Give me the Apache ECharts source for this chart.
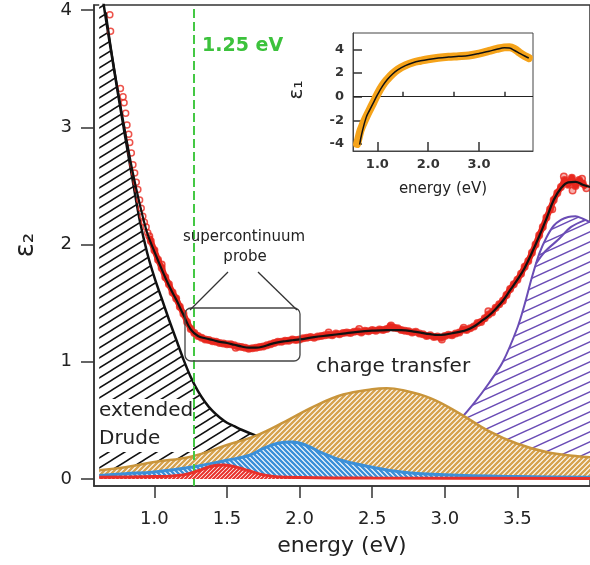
<!DOCTYPE html>
<html><head><meta charset="utf-8">
<script src="https://cdn.jsdelivr.net/npm/echarts@6.0.0/dist/echarts.min.js"></script>
<style>html,body{margin:0;padding:0;background:#fff}#c{width:590px;height:565px}</style>
</head><body><div id="c"></div>
<script>
// ---------------- data ----------------
const xTicks = [1.0, 1.5, 2.0, 2.5, 3.0, 3.5];
const yTicks = [0, 1, 2, 3, 4];
const insetXTicks = [1, 2, 3];
const insetXMinor = [1.5, 2.5, 3.5];
const insetYTicks = [-4, -2, 0, 2, 4];
const markerEnergy = 1.27;

const drudeX = [0.62,0.66,0.70,0.75,0.80,0.85,0.90,0.95,1.00,1.05,1.10,1.15,1.20,1.25,1.30,1.35,1.40,1.45,1.50,1.55,1.60,1.70,1.80,2.00,2.20,2.50,3.00,3.50,4.00];
const drudeY = [4.30,3.97,3.66,3.28,2.91,2.55,2.20,1.93,1.72,1.54,1.36,1.19,1.02,0.87,0.75,0.655,0.58,0.525,0.48,0.45,0.42,0.37,0.33,0.27,0.22,0.17,0.12,0.09,0.07];

const ctX = [0.62,0.80,1.00,1.25,1.50,1.70,1.90,2.10,2.30,2.50,2.60,2.70,2.90,3.10,3.30,3.50,3.70,3.90,4.00];
const ctY = [0.075,0.10,0.145,0.19,0.29,0.37,0.49,0.62,0.72,0.765,0.773,0.76,0.69,0.56,0.41,0.30,0.23,0.195,0.185];

const blueX = [0.62,0.80,1.00,1.25,1.50,1.65,1.75,1.85,1.95,2.05,2.15,2.30,2.50,2.70,3.00,3.50,4.00];
const blueY = [0.03,0.045,0.06,0.10,0.16,0.20,0.26,0.305,0.315,0.285,0.225,0.155,0.10,0.06,0.035,0.02,0.015];

const redX = [0.62,1.00,1.20,1.30,1.40,1.47,1.55,1.65,1.75,1.90,2.50,4.00];
const redY = [0.015,0.02,0.035,0.07,0.11,0.12,0.105,0.07,0.035,0.015,0.008,0.005];

const purpleX = [2.70,2.90,3.00,3.10,3.20,3.30,3.40,3.50,3.55,3.60,3.65,3.70,3.75,3.80,3.85,3.90,3.95,4.00];
const purpleY = [0.12,0.27,0.37,0.50,0.645,0.81,1.00,1.29,1.49,1.72,1.92,2.06,2.16,2.21,2.235,2.24,2.22,2.19];
const purpleInnerX = [3.63,3.69,3.78,3.87,3.97];
const purpleInnerY = [1.84,1.94,2.04,2.15,2.21];

const fitX = [0.665,0.70,0.75,0.80,0.85,0.90,0.95,1.00,1.05,1.10,1.15,1.20,1.25,1.30,1.35,1.40,1.45,1.50,1.55,1.60,1.65,1.70,1.75,1.80,1.85,1.90,1.95,2.00,2.10,2.20,2.30,2.40,2.50,2.60,2.70,2.80,2.90,2.95,3.00,3.05,3.10,3.15,3.20,3.25,3.30,3.35,3.40,3.45,3.50,3.55,3.60,3.65,3.70,3.75,3.80,3.85,3.90,3.95,4.00];
const fitY = [3.98,3.68,3.30,2.95,2.62,2.34,2.10,1.94,1.79,1.65,1.53,1.40,1.275,1.22,1.20,1.185,1.17,1.16,1.145,1.13,1.12,1.12,1.13,1.15,1.165,1.175,1.183,1.19,1.21,1.225,1.24,1.255,1.265,1.27,1.27,1.255,1.235,1.228,1.232,1.243,1.255,1.27,1.30,1.345,1.39,1.45,1.52,1.61,1.70,1.80,1.93,2.07,2.22,2.38,2.48,2.53,2.535,2.51,2.49];

// measured points: sparse steep part, dense band, scattered extras
const expSteepX = [0.693,0.698,0.766,0.784,0.791,0.802,0.811,0.823,0.830,0.841,0.852,0.864,0.875,0.886,0.898,0.909,0.920,0.931,0.943,0.954];
const expSteepY = [3.96,3.82,3.33,3.26,3.21,3.12,3.02,2.94,2.87,2.78,2.68,2.61,2.53,2.47,2.38,2.31,2.24,2.19,2.15,2.10];
const expBandX = [0.965,0.975,1.000,1.025,1.050,1.075,1.100,1.125,1.150,1.175,1.200,1.225,1.250,1.275,1.300,1.325,1.350,1.375,1.400,1.425,1.450,1.475,1.500,1.525,1.550,1.575,1.600,1.625,1.650,1.675,1.700,1.725,1.750,1.775,1.800,1.825,1.850,1.875,1.900,1.925,1.950,1.975,
2.000,2.025,2.050,2.075,2.100,2.125,2.150,2.175,2.200,2.225,2.250,2.275,2.300,2.325,2.350,2.375,2.400,2.425,2.450,2.475,2.500,2.525,2.550,2.575,2.600,2.625,2.650,2.675,2.700,2.725,2.750,2.775,2.800,2.825,2.850,2.875,2.900,2.925,2.950,2.975,
3.000,3.025,3.050,3.075,3.100,3.125,3.150,3.175,3.200,3.225,3.250,3.275,3.300,3.325,3.350,3.375,3.400,3.425,3.450,3.475,3.500,3.525,3.550,3.575,3.600,3.625,3.650,3.675,3.700,3.725,3.750,3.775,3.800,3.825,3.850,3.875,3.900,3.925,3.950,3.975];
const expBandY = [2.07,2.03,1.95,1.87,1.80,1.72,1.66,1.59,1.54,1.47,1.41,1.34,1.28,1.245,1.22,1.205,1.19,1.185,1.175,1.17,1.16,1.155,1.15,1.15,1.14,1.13,1.125,1.12,1.11,1.115,1.12,1.125,1.13,1.14,1.15,1.16,1.17,1.17,1.18,1.18,1.19,1.185,
1.19,1.20,1.205,1.21,1.205,1.215,1.22,1.225,1.23,1.225,1.24,1.235,1.245,1.25,1.245,1.255,1.26,1.25,1.265,1.26,1.27,1.265,1.275,1.27,1.28,1.30,1.29,1.285,1.27,1.265,1.26,1.25,1.255,1.24,1.235,1.22,1.225,1.21,1.215,1.205,
1.22,1.23,1.225,1.24,1.25,1.275,1.27,1.285,1.30,1.33,1.34,1.37,1.40,1.42,1.46,1.49,1.52,1.57,1.62,1.66,1.70,1.75,1.81,1.86,1.93,2.00,2.08,2.15,2.23,2.30,2.38,2.44,2.49,2.55,2.51,2.57,2.50,2.55,2.52,2.48];
const expExtraX = [3.820,3.880,3.945,2.630,3.130,2.980,1.560,2.200,2.410,3.300,3.740,1.050];
const expExtraY = [2.58,2.46,2.56,1.31,1.29,1.19,1.12,1.25,1.28,1.43,2.30,1.83];

const e1FitX = [0.65,0.70,0.78,0.85,0.92,1.00,1.10,1.20,1.30,1.40,1.55,1.70,1.85,2.00,2.20,2.40,2.60,2.80,3.00,3.20,3.35,3.50,3.60,3.70,3.80,3.90,3.98];
const e1FitY = [-4.05,-3.0,-1.75,-1.12,-0.52,0.15,0.9,1.48,1.93,2.28,2.64,2.88,3.04,3.16,3.28,3.36,3.42,3.5,3.66,3.86,4.02,4.14,4.12,3.92,3.68,3.45,3.28];
const e1DataX = [0.60,0.63,0.67,0.72,0.78,0.85,0.92,1.00,1.10,1.20,1.30,1.40,1.55,1.70,1.85,2.00,2.20,2.40,2.60,2.80,3.00,3.20,3.35,3.50,3.60,3.70,3.80,3.90,3.98];
const e1DataY = [-4.0,-3.5,-2.85,-2.3,-1.72,-1.1,-0.5,0.2,0.95,1.5,1.95,2.3,2.66,2.9,3.05,3.18,3.3,3.38,3.43,3.5,3.66,3.88,4.05,4.18,4.2,4.05,3.72,3.45,3.28];

// ---------------- helpers ----------------
const F = '"DejaVu Sans", Verdana, sans-serif';
function pairs(xs, ys) { return xs.map((x, i) => [x, ys[i]]); }
function hatch(w, h, color, lw, dir) {
  const c = document.createElement('canvas');
  c.width = w; c.height = h;
  const g = c.getContext('2d');
  g.fillStyle = '#fff'; g.fillRect(0, 0, w, h);
  g.strokeStyle = color; g.lineWidth = lw; g.lineCap = 'butt';
  g.beginPath();
  for (let m = -2; m <= 2; m++) {
    if (dir === '/') { g.moveTo(-w, 2 * h + m * h); g.lineTo(2 * w, -h + m * h); }
    else { g.moveTo(-w, -h + m * h); g.lineTo(2 * w, 2 * h + m * h); }
  }
  g.stroke();
  return { image: c, repeat: 'repeat' };
}
const C = {
  axis: '#333', text: '#222', fit: '#111', exp: '#e8281e', tan: '#c9953b',
  blue: '#3b8fd8', red: '#e8302a', purple: '#6a4cb5', green: '#44c844', orange: '#f5a31a'
};
const expStyle = { color: 'rgba(232,40,30,0.45)', borderColor: C.exp, borderWidth: 1.5 };

const chart = echarts.init(document.getElementById('c'), null, { renderer: 'canvas' });
chart.setOption({
  animation: false,
  backgroundColor: '#fff',
  textStyle: { fontFamily: F },
  grid: [
    { left: 94, top: 5, right: -5, bottom: 79, show: true, borderColor: '#333', borderWidth: 1.5, containLabel: false },
    { left: 353, top: 33, width: 180, height: 118, show: true, borderColor: '#444', borderWidth: 1, backgroundColor: '#fff', containLabel: false }
  ],
  xAxis: [
    { type: 'value', gridIndex: 0, min: 0.584, max: 4.0,
      axisLine: { show: true, onZero: false, lineStyle: { color: C.axis, width: 1.5 } },
      axisTick: { show: true, inside: false, length: 12, customValues: xTicks, lineStyle: { color: C.axis, width: 1.5 } },
      axisLabel: { customValues: xTicks, formatter: v => Number(v).toFixed(1), fontSize: 18, color: C.text, margin: 24, fontFamily: F },
      splitLine: { show: false },
      name: 'energy (eV)', nameLocation: 'middle', nameGap: 49,
      nameTextStyle: { fontSize: 22, color: C.text, fontFamily: F } },
    { type: 'value', gridIndex: 1, min: 0.52, max: 4.063, position: 'bottom',
      axisLine: { show: true, onZero: false, lineStyle: { color: '#444', width: 1 } },
      axisTick: { show: true, inside: true, length: 9, customValues: insetXTicks, lineStyle: { color: '#333', width: 1.5 } },
      axisLabel: { customValues: insetXTicks, formatter: v => Number(v).toFixed(1), fontSize: 13, fontWeight: 'bold', color: '#333', margin: 7, fontFamily: F },
      splitLine: { show: false },
      name: 'energy (eV)', nameLocation: 'middle', nameGap: 31,
      nameTextStyle: { fontSize: 15, color: C.text, fontFamily: F } },
    { type: 'value', gridIndex: 1, min: 0.52, max: 4.063, position: 'bottom',
      axisLine: { show: false },
      axisTick: { show: true, inside: true, length: 5, customValues: insetXMinor, lineStyle: { color: '#333', width: 1.5 } },
      axisLabel: { show: false }, splitLine: { show: false } }
  ],
  yAxis: [
    { type: 'value', gridIndex: 0, min: -0.06, max: 4.043,
      axisLine: { show: true, onZero: false, lineStyle: { color: C.axis, width: 1.5 } },
      axisTick: { show: true, inside: false, length: 13, customValues: yTicks, lineStyle: { color: C.axis, width: 1.5 } },
      axisLabel: { customValues: yTicks, formatter: v => String(v), fontSize: 18, color: C.text, margin: 22, fontFamily: F },
      splitLine: { show: false } },
    { type: 'value', gridIndex: 1, min: -4.6, max: 5.4,
      axisLine: { show: true, onZero: false, lineStyle: { color: '#444', width: 1 } },
      axisTick: { show: true, inside: true, length: 9, customValues: insetYTicks, lineStyle: { color: '#333', width: 1.5 } },
      axisLabel: { customValues: insetYTicks, formatter: v => String(v), fontSize: 13, fontWeight: 'bold', color: '#333', margin: 9, fontFamily: F },
      splitLine: { show: false } }
  ],
  series: [
    { name: 'purple', type: 'line', xAxisIndex: 0, yAxisIndex: 0, z: 1, smooth: 0.3, showSymbol: false,
      data: pairs(purpleX, purpleY), lineStyle: { color: C.purple, width: 2 },
      areaStyle: { color: hatch(22, 10, C.purple, 1.5, '/'), opacity: 1 } },
    { name: 'purpleInner', type: 'line', z: 1, smooth: 0.3, showSymbol: false,
      data: pairs(purpleInnerX, purpleInnerY), lineStyle: { color: C.purple, width: 2 } },
    { name: 'drude', type: 'line', z: 2, smooth: 0.3, showSymbol: false,
      data: pairs(drudeX, drudeY), lineStyle: { color: '#111', width: 2.5 },
      areaStyle: { color: hatch(16, 10, '#111', 1.5, '/'), opacity: 1 } },
    { name: 'charge transfer', type: 'line', z: 3, smooth: 0.4, showSymbol: false,
      data: pairs(ctX, ctY), lineStyle: { color: C.tan, width: 2.5 },
      areaStyle: { color: hatch(5, 5, '#d6a24e', 2.4, '/'), opacity: 1 } },
    { name: 'blue', type: 'line', z: 4, smooth: 0.4, showSymbol: false,
      data: pairs(blueX, blueY), lineStyle: { color: C.blue, width: 3 },
      areaStyle: { color: hatch(5, 5, C.blue, 2.4, '\\'), opacity: 1 } },
    { name: 'red', type: 'line', z: 5, smooth: 0.4, showSymbol: false,
      data: pairs(redX, redY), lineStyle: { color: C.red, width: 3 },
      areaStyle: { color: hatch(4, 4, C.red, 2, '/'), opacity: 1 } },
    { name: 'data band', type: 'line', z: 6, showSymbol: false,
      data: pairs(expBandX, expBandY), lineStyle: { color: C.exp, width: 6, join: 'round' } },
    { name: 'data band pts', type: 'scatter', z: 6, symbol: 'circle', symbolSize: 6.5,
      data: pairs(expBandX, expBandY).concat(pairs(expExtraX, expExtraY)), itemStyle: expStyle },
    { name: 'data steep', type: 'scatter', z: 6, symbol: 'circle', symbolSize: 6,
      data: pairs(expSteepX, expSteepY),
      itemStyle: { color: 'rgba(255,255,255,0)', borderColor: C.exp, borderWidth: 1.5 } },
    { name: 'fit', type: 'line', z: 7, smooth: 0.4, showSymbol: false,
      data: pairs(fitX, fitY), lineStyle: { color: C.fit, width: 2.2 } },
    { name: 'marker', type: 'line', z: 9, data: [],
      markLine: { silent: true, symbol: ['none', 'none'], label: { show: false },
        lineStyle: { color: C.green, width: 2, type: [9, 4] },
        data: [{ xAxis: markerEnergy }] } },
    { name: 'eps1 data', type: 'line', xAxisIndex: 1, yAxisIndex: 1, z: 10, smooth: 0.4, showSymbol: false,
      data: pairs(e1DataX, e1DataY), lineStyle: { color: C.orange, width: 8, cap: 'round', join: 'round' } },
    { name: 'eps1 fit', type: 'line', xAxisIndex: 1, yAxisIndex: 1, z: 11, smooth: 0.4, showSymbol: false,
      data: pairs(e1FitX, e1FitY), lineStyle: { color: '#111', width: 1.5 },
      markLine: { silent: true, symbol: ['none', 'none'], label: { show: false },
        lineStyle: { color: '#222', width: 1.2, type: 'solid' }, data: [{ yAxis: 0 }] } }
  ],
  graphic: { elements: [
    { type: 'rect', z: 100, shape: { x: 96, y: 399, width: 97, height: 53 }, style: { fill: '#fff' } },
    { type: 'text', z: 101, x: 99, y: 411, style: { text: 'extended', font: '20px ' + F, fill: C.text, align: 'left', verticalAlign: 'middle' } },
    { type: 'text', z: 101, x: 99, y: 439, style: { text: 'Drude', font: '20px ' + F, fill: C.text, align: 'left', verticalAlign: 'middle' } },
    { type: 'text', z: 101, x: 316, y: 367, style: { text: 'charge transfer', font: '20px ' + F, fill: C.text, align: 'left', verticalAlign: 'middle' } },
    { type: 'text', z: 101, x: 202, y: 46, style: { text: '1.25 eV', font: 'bold 19px ' + F, fill: '#3cc23c', align: 'left', verticalAlign: 'middle' } },
    { type: 'text', z: 101, x: 244, y: 237, style: { text: 'supercontinuum', font: '15px ' + F, fill: C.text, align: 'center', verticalAlign: 'middle' } },
    { type: 'text', z: 101, x: 245, y: 257, style: { text: 'probe', font: '15px ' + F, fill: C.text, align: 'center', verticalAlign: 'middle' } },
    { type: 'rect', z: 101, shape: { x: 185, y: 308, width: 115, height: 53, r: 6 }, style: { fill: 'none', stroke: '#444', lineWidth: 1.3 } },
    { type: 'line', z: 101, shape: { x1: 228, y1: 272, x2: 190, y2: 310 }, style: { stroke: '#333', lineWidth: 1.3 } },
    { type: 'line', z: 101, shape: { x1: 258, y1: 272, x2: 297, y2: 310 }, style: { stroke: '#333', lineWidth: 1.3 } },
    { type: 'text', z: 101, x: 26, y: 245, rotation: Math.PI / 2, style: { text: 'ε₂', font: '26px ' + F, fill: C.text, align: 'center', verticalAlign: 'middle' } },
    { type: 'text', z: 101, x: 297, y: 90, rotation: Math.PI / 2, style: { text: 'ε₁', font: '20px ' + F, fill: C.text, align: 'center', verticalAlign: 'middle' } }
  ] }
});
</script>
</body></html>
